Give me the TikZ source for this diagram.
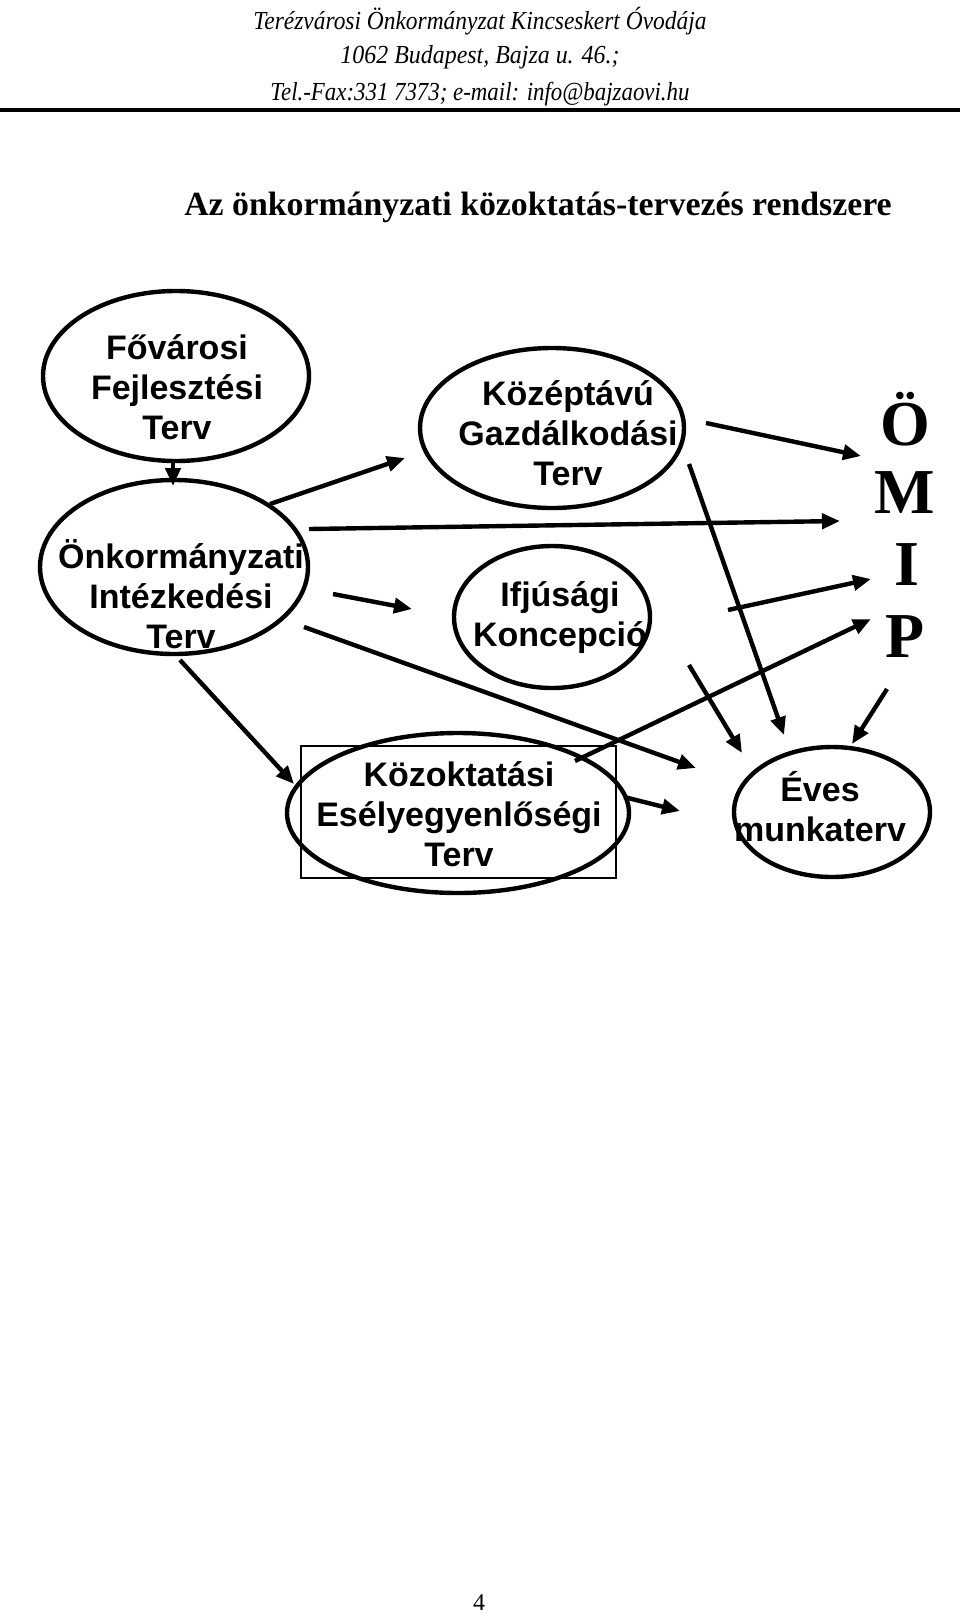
\documentclass[tikz,border=0pt]{standalone}
\usepackage{graphicx}
\usepackage{fontspec}
\setmainfont{Liberation Serif}
\newfontfamily\arialfont{Liberation Sans}
\usetikzlibrary{arrows.meta,shapes.geometric}
\begin{document}
\begin{tikzpicture}[x=0.5pt,y=-0.5pt,
  oval/.style={draw,ellipse,line width=2.2pt,inner sep=0pt},
  lbl/.style={font=\arialfont\bfseries\fontsize{17}{20}\selectfont,align=center,inner sep=0pt},
  arr/.style={line width=2.2pt,-{Triangle[length=9pt,width=7.5pt]}},
  hdr/.style={font=\itshape\fontsize{13}{15}\selectfont,inner sep=0pt},
  big/.style={font=\bfseries\fontsize{32}{36}\selectfont,inner sep=0pt}]
\useasboundingbox (0,0) rectangle (960,1617);
% header
\node[hdr] (h1) at (480,21) {\resizebox{226.5pt}{\height}{Terézvárosi Önkormányzat Kincseskert Óvodája}};
\node[hdr] (h2) at (480,57) {\resizebox{139.5pt}{\height}{1062 Budapest, Bajza u. 46.;}};
\node[hdr] (h3) at (480,94) {\resizebox{209.5pt}{\height}{Tel.-Fax:331 7373; e-mail: info@bajzaovi.hu}};
\draw[line width=2pt] (0,110) -- (960,110);
% title
\node[font=\bfseries\fontsize{16.9}{20}\selectfont,inner sep=0pt] (title) at (538,207) {Az önkormányzati közoktatás-tervezés rendszere};
% texts
\node[lbl] (tfov) at (177,387) {Fővárosi\\Fejlesztési\\Terv};
\node[lbl] (tonk) at (181,594) {Önkormányzati\\Intézkedési\\Terv};
\node[lbl] (tkgt) at (568,433) {Középtávú\\Gazdálkodási\\Terv};
\node[lbl] (tifj) at (560,618) {Ifjúsági\\Koncepció};
\node[lbl] (tkoz) at (459,814) {Közoktatási\\Esélyegyenlőségi\\Terv};
\node[lbl] (teves) at (820,807) {Éves\\munkaterv};
% ellipses
\node[oval,minimum width=133pt,minimum height=85pt] (fov) at (176,376) {};
\node[oval,minimum width=134pt,minimum height=87pt] (onk) at (174,567) {};
\node[oval,minimum width=132pt,minimum height=80pt] (kgt) at (552,428) {};
\node[oval,minimum width=98pt,minimum height=71pt] (ifj) at (552,617) {};
\node[draw,line width=0.7pt,minimum width=157.5pt,minimum height=66pt,inner sep=0pt] (rect) at (458.5,812) {};
\node[oval,minimum width=171pt,minimum height=80pt] (koz) at (458,813) {};
\node[oval,minimum width=98pt,minimum height=65pt] (eves) at (832,812) {};
% OMIP
\node[big] (lO) at (905,419) {Ö};
\node[big] (lM) at (905,493) {M};
\node[big] (lI) at (907,565) {I};
\node[big] (lP) at (905,637) {P};
% connector ends
\coordinate (a1s) at (173,461); \coordinate (a1e) at (173,486);
\coordinate (a2s) at (270,504); \coordinate (a2e) at (405,458);
\coordinate (a3s) at (309,529); \coordinate (a3e) at (840,521);
\coordinate (a4s) at (333,594); \coordinate (a4e) at (412,609);
\coordinate (a5s) at (304,627); \coordinate (a5e) at (696,768);
\coordinate (a6s) at (180,660); \coordinate (a6e) at (294,784);
\coordinate (a7s) at (706,423); \coordinate (a7e) at (861,456);
\coordinate (a8s) at (689,464); \coordinate (a8e) at (784,735);
\coordinate (a9s) at (728,610); \coordinate (a9e) at (871,579);
\coordinate (a10s) at (575,761); \coordinate (a10e) at (871,619);
\coordinate (a11s) at (689,665); \coordinate (a11e) at (742,753);
\coordinate (a12s) at (887,689); \coordinate (a12e) at (852,744);
\coordinate (a13s) at (624,797); \coordinate (a13e) at (680,811);
% connectors
\draw[arr] (a1s) -- (a1e);
\draw[arr] (a2s) -- (a2e);
\draw[arr] (a3s) -- (a3e);
\draw[arr] (a4s) -- (a4e);
\draw[arr] (a5s) -- (a5e);
\draw[arr] (a6s) -- (a6e);
\draw[arr] (a7s) -- (a7e);
\draw[arr] (a8s) -- (a8e);
\draw[arr] (a9s) -- (a9e);
\draw[arr] (a10s) -- (a10e);
\draw[arr] (a11s) -- (a11e);
\draw[arr] (a12s) -- (a12e);
\draw[arr] (a13s) -- (a13e);
% page number
\node[font=\fontsize{12}{14}\selectfont,inner sep=0pt] (pg) at (479,1603) {4};
\end{tikzpicture}
\end{document}
